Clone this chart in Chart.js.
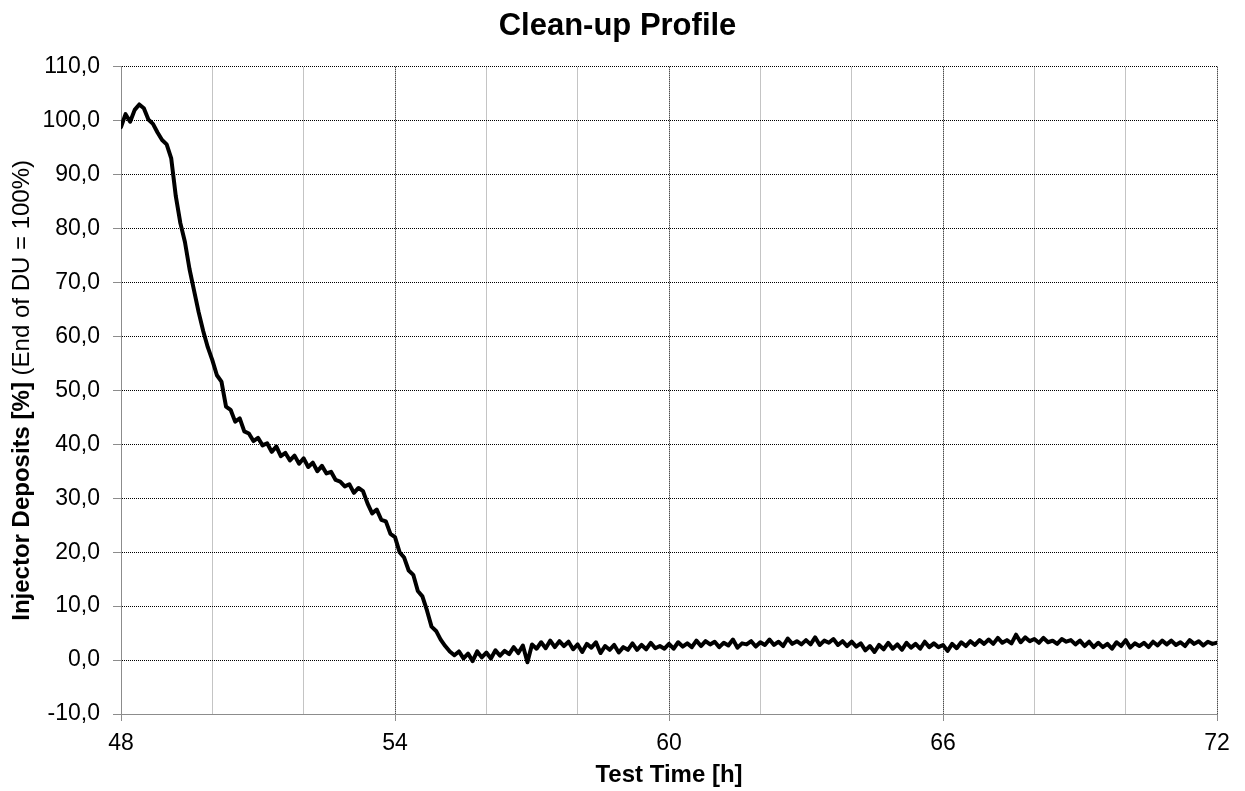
<!DOCTYPE html>
<html><head><meta charset="utf-8">
<script src="https://cdn.jsdelivr.net/npm/chart.js@4.4.0/dist/chart.umd.min.js"></script>
<style>html,body{margin:0;padding:0;background:#fff;}</style>
</head><body>
<canvas id="c" width="1245" height="791" style="display:block;width:1245px;height:791px"></canvas>
<script>
// ---- data: injector deposits [%], sampled every 0.1 h, one array per hour ----
const timeStart = 48;
const timeStep = 0.1;
const h48 = [98.8, 101.2, 99.8, 102.0, 103.0, 102.3, 100.2, 99.4, 97.8, 96.4];
const h49 = [95.6, 93.0, 86.0, 81.0, 77.5, 72.5, 68.5, 64.5, 61.0, 58.0];
const h50 = [55.6, 52.8, 51.6, 47.0, 46.4, 44.2, 44.8, 42.4, 42.0, 40.6];
const h51 = [41.2, 39.8, 40.2, 38.6, 39.6, 37.8, 38.4, 37.0, 37.9, 36.4];
const h52 = [37.4, 35.8, 36.6, 35.0, 36.0, 34.6, 34.9, 33.4, 33.1, 32.2];
const h53 = [32.6, 31.0, 31.9, 31.3, 29.0, 27.2, 27.9, 26.0, 25.7, 23.4];
const h54 = [22.8, 20.0, 19.0, 16.6, 15.8, 12.8, 11.8, 9.2, 6.2, 5.4];
const h55 = [3.8, 2.6, 1.6, 0.9, 1.6, 0.3, 1.2, -0.2, 1.6, 0.5];
const h56 = [1.4, 0.3, 1.8, 0.8, 1.7, 1.1, 2.4, 1.3, 2.7, -0.4];
const h57 = [2.9, 2.1, 3.3, 2.2, 3.6, 2.4, 3.5, 2.6, 3.4, 2.0];
const h58 = [2.9, 1.5, 3.0, 2.3, 3.3, 1.3, 2.6, 1.9, 2.8, 1.4];
const h59 = [2.4, 1.9, 3.1, 1.9, 2.8, 2.0, 3.2, 2.2, 2.6, 2.1];
const h60 = [3.0, 2.1, 3.3, 2.5, 3.1, 2.4, 3.6, 2.6, 3.5, 2.9];
const h61 = [3.4, 2.4, 3.2, 2.7, 3.8, 2.3, 3.1, 2.9, 3.5, 2.5];
const h62 = [3.3, 2.8, 3.8, 2.8, 3.4, 2.6, 4.0, 3.0, 3.5, 2.9];
const h63 = [3.7, 2.9, 4.2, 2.8, 3.6, 3.2, 3.9, 2.8, 3.5, 2.6];
const h64 = [3.4, 2.5, 3.1, 1.8, 2.6, 1.5, 2.8, 2.0, 3.2, 2.1];
const h65 = [2.9, 1.9, 3.2, 2.3, 3.0, 2.1, 3.4, 2.4, 3.1, 2.4];
const h66 = [2.8, 1.7, 3.0, 2.2, 3.3, 2.6, 3.5, 2.8, 3.7, 3.0];
const h67 = [3.8, 3.0, 4.1, 3.2, 3.7, 3.1, 4.7, 3.3, 4.2, 3.5];
const h68 = [3.9, 3.2, 4.1, 3.3, 3.6, 3.0, 3.9, 3.4, 3.7, 2.9];
const h69 = [3.6, 2.6, 3.4, 2.4, 3.2, 2.4, 3.0, 2.1, 3.3, 2.6];
const h70 = [3.7, 2.3, 3.1, 2.6, 3.2, 2.4, 3.4, 2.7, 3.6, 2.9];
const h71 = [3.6, 2.8, 3.3, 2.6, 3.7, 3.0, 3.5, 2.7, 3.4, 3.0];
const h72 = [3.2];

const xTickLabels = ['48', '54', '60', '66', '72'];
const yTickValues = [-10, 0, 10, 20, 30, 40, 50, 60, 70, 80, 90, 100, 110];

const titleText = 'Clean-up Profile';
const xTitleText = 'Test Time [h]';
const yTitleBold = 'Injector Deposits [%]';
const yTitleNormal = ' (End of DU = 100%)';

const deposits = [].concat(h48,h49,h50,h51,h52,h53,h54,h55,h56,h57,h58,h59,h60,
                           h61,h62,h63,h64,h65,h66,h67,h68,h69,h70,h71,h72);
const points = deposits.map((v, i) => ({x: Math.round((timeStart + i * timeStep) * 10) / 10, y: v}));

const FONT = '"Liberation Sans", Arial, sans-serif';
const TICK_SIZE = 23;
const AXIS_TITLE_SIZE = 24;

const yTitlePlugin = {
  id: 'yTitle',
  afterDraw(chart) {
    const {ctx, chartArea} = chart;
    ctx.save();
    const cy = (chartArea.top + chartArea.bottom) / 2;
    ctx.translate(22, cy);
    ctx.rotate(-Math.PI / 2);
    ctx.textBaseline = 'middle';
    ctx.fillStyle = '#000';
    ctx.font = 'bold ' + AXIS_TITLE_SIZE + 'px ' + FONT;
    const wb = ctx.measureText(yTitleBold).width;
    ctx.font = AXIS_TITLE_SIZE + 'px ' + FONT;
    const wn = ctx.measureText(yTitleNormal).width;
    const start = -(wb + wn) / 2;
    ctx.textAlign = 'left';
    ctx.font = 'bold ' + AXIS_TITLE_SIZE + 'px ' + FONT;
    ctx.fillText(yTitleBold, start, 0);
    ctx.font = AXIS_TITLE_SIZE + 'px ' + FONT;
    ctx.fillText(yTitleNormal, start + wb, 0);
    ctx.restore();
  }
};

new Chart(document.getElementById('c'), {
  type: 'line',
  data: {
    datasets: [{
      data: points,
      borderColor: '#000',
      borderWidth: 4,
      pointRadius: 0,
      tension: 0,
      fill: false,
      borderJoinStyle: 'round',
      borderCapStyle: 'round'
    }]
  },
  options: {
    responsive: false,
    animation: false,
    events: [],
    layout: {padding: {left: 18, right: 28, top: 0, bottom: 0}},
    plugins: {
      legend: {display: false},
      tooltip: {enabled: false},
      title: {
        display: true, text: titleText, color: '#000',
        font: {family: FONT, size: 31, weight: 'bold', lineHeight: 1.2},
        padding: {top: 8, bottom: 21.5}
      }
    },
    scales: {
      x: {
        type: 'linear', min: 48, max: 72, position: 'bottom',
        afterBuildTicks(s) { s.ticks = xTickLabels.map(t => ({value: Number(t)})); },
        ticks: {color: '#000', font: {family: FONT, size: TICK_SIZE}, padding: 9, maxRotation: 0, autoSkip: false,
                callback: (v) => String(v)},
        grid: {color: '#000', lineWidth: 1, tickColor: '#8c8c8c', tickLength: 7, tickBorderDash: []},
        border: {display: true, color: '#8c8c8c', width: 1, dash: [1, 1]},
        title: {display: true, text: xTitleText, color: '#000',
                font: {family: FONT, size: AXIS_TITLE_SIZE, weight: 'bold', lineHeight: 1.2},
                padding: {top: 0, bottom: 1}},
        afterFit(s) { s.height = 77; }
      },
      x2: {
        type: 'linear', min: 48, max: 72, position: 'top',
        ticks: {display: false, stepSize: 2},
        grid: {color: (c) => (c.tick && c.tick.value % 6 === 0) ? 'rgba(0,0,0,0)' : '#c4c4c4',
               lineWidth: 1, drawTicks: false},
        border: {display: false},
        afterFit(s) { s.height = 0; }
      },
      y: {
        min: -10, max: 110,
        afterBuildTicks(s) { s.ticks = yTickValues.map(v => ({value: v})); },
        ticks: {color: '#000', font: {family: FONT, size: TICK_SIZE}, padding: 13,
                callback: (v) => Number(v).toFixed(1).replace('.', ',')},
        grid: {color: '#000', lineWidth: 1, tickColor: '#8c8c8c', tickLength: 8, tickBorderDash: []},
        border: {display: true, color: '#8c8c8c', width: 1, dash: [1, 1]},
        afterFit(s) { s.width = 103; }
      }
    }
  },
  plugins: [yTitlePlugin]
});
</script>
</body></html>
